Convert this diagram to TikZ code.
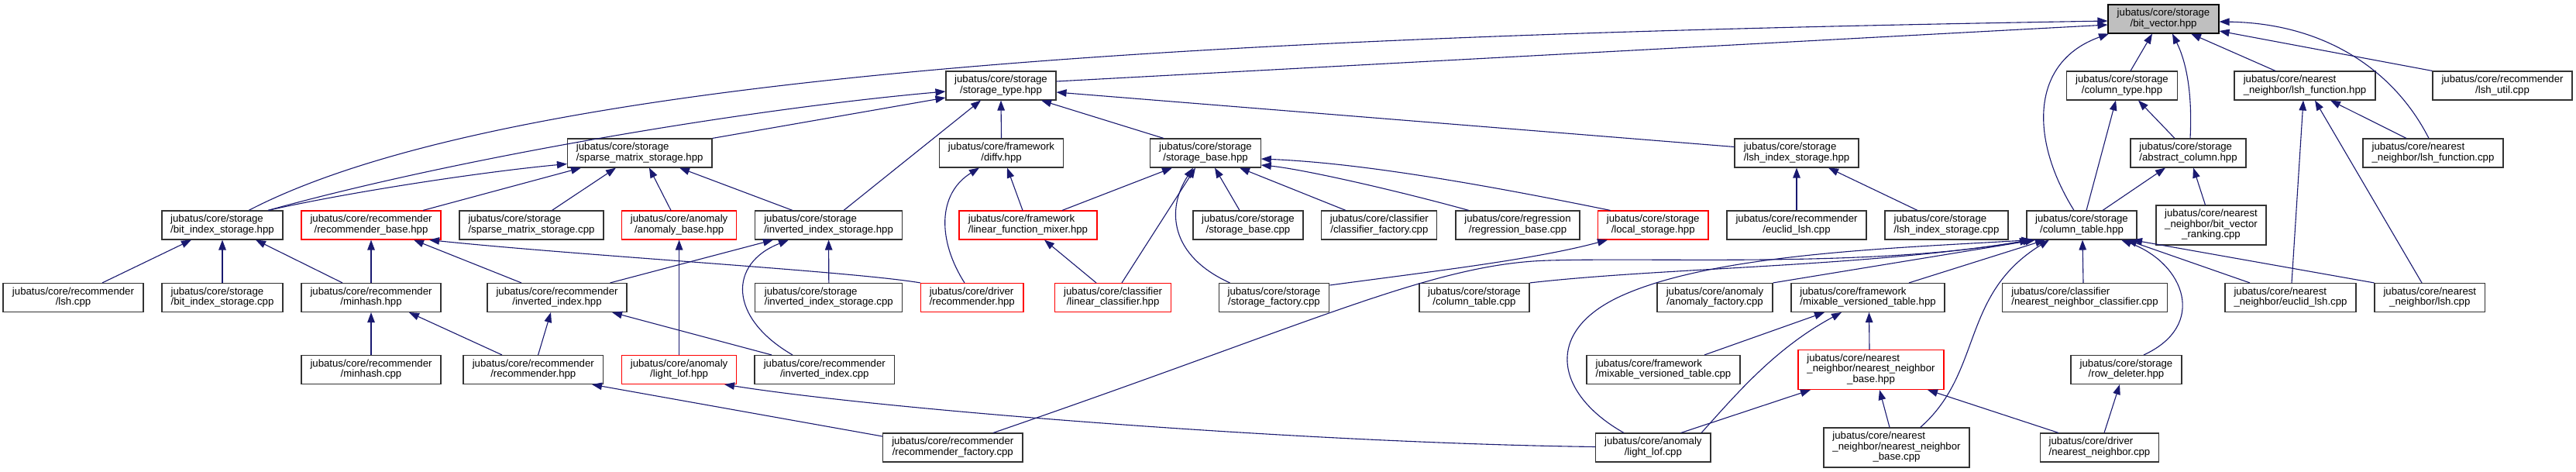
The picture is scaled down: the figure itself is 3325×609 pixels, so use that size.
\documentclass[tikz,border=0pt]{standalone}
\usepackage{fontspec}
\setmainfont{Liberation Sans}
\usetikzlibrary{arrows.meta,calc}
\definecolor{edgeblue}{RGB}{25,25,112}
\definecolor{rootgray}{RGB}{191,191,191}
\newcommand{\twol}[2]{\begin{tabular}{@{}l@{}}#1\\\multicolumn{1}{@{}c@{}}{#2}\end{tabular}}
\newcommand{\threel}[3]{\begin{tabular}{@{}l@{}}#1\\#2\\\multicolumn{1}{@{}c@{}}{#3}\end{tabular}}
\begin{document}
\begin{tikzpicture}[x=1pt,y=-1pt,
  nbox/.style={draw=black!80, line width=1.1pt, fill=white, rectangle, inner sep=0pt, minimum height=37pt, font=\fontsize{13.2}{13.2}\selectfont},
  tall/.style={minimum height=51pt},
  redbox/.style={draw=red},
  rootbox/.style={fill=rootgray, draw=black},
  conn/.style={draw=edgeblue, line width=1.1pt, -{Triangle[length=13pt,width=9.5pt]}}]
\useasboundingbox (0,0) rectangle (3325,609);
\fill[white] (0,0) rectangle (3325,609);
% row 0
\node[nbox,rootbox,minimum width=143pt] (bitvec) at (2792.5,24.5) {\twol{jubatus/core/storage}{/bit\_vector.hpp}};
% row 1
\node[nbox,minimum width=142pt] (storagetype) at (1292,110.5) {\twol{jubatus/core/storage}{/storage\_type.hpp}};
\node[nbox,minimum width=142.5pt] (coltype) at (2739,110.5) {\twol{jubatus/core/storage}{/column\_type.hpp}};
\node[nbox,minimum width=182pt] (lshfunchpp) at (2975,110.5) {\twol{jubatus/core/nearest}{\_neighbor/lsh\_function.hpp}};
\node[nbox,minimum width=180pt] (lshutil) at (3230,110.5) {\twol{jubatus/core/recommender}{/lsh\_util.cpp}};
% row 2
\node[nbox,minimum width=186.5pt] (sparsehpp) at (825.7,197.5) {\twol{jubatus/core/storage}{/sparse\_matrix\_storage.hpp}};
\node[nbox,minimum width=160pt] (diffv) at (1292.5,197.5) {\twol{jubatus/core/framework}{/diffv.hpp}};
\node[nbox,minimum width=142.5pt] (storagebase) at (1556,197.5) {\twol{jubatus/core/storage}{/storage\_base.hpp}};
\node[nbox,minimum width=160pt] (lshidxhpp) at (2319,197.5) {\twol{jubatus/core/storage}{/lsh\_index\_storage.hpp}};
\node[nbox,minimum width=149pt] (abscol) at (2824.5,197.5) {\twol{jubatus/core/storage}{/abstract\_column.hpp}};
\node[nbox,minimum width=181pt] (lshfunccpp) at (3140.5,197.5) {\twol{jubatus/core/nearest}{\_neighbor/lsh\_function.cpp}};
% row 3
\node[nbox,minimum width=156pt] (bitidxhpp) at (287,290.5) {\twol{jubatus/core/storage}{/bit\_index\_storage.hpp}};
\node[nbox,redbox,minimum width=180pt] (recbase) at (479,290.5) {\twol{jubatus/core/recommender}{/recommender\_base.hpp}};
\node[nbox,minimum width=186pt] (sparsecpp) at (686,290.5) {\twol{jubatus/core/storage}{/sparse\_matrix\_storage.cpp}};
\node[nbox,redbox,minimum width=148pt] (anombase) at (876.6,290.5) {\twol{jubatus/core/anomaly}{/anomaly\_base.hpp}};
\node[nbox,minimum width=190pt] (invidxstorhpp) at (1069.6,290.5) {\twol{jubatus/core/storage}{/inverted\_index\_storage.hpp}};
\node[nbox,redbox,minimum width=178pt] (lfmixer) at (1327,290.5) {\twol{jubatus/core/framework}{/linear\_function\_mixer.hpp}};
\node[nbox,minimum width=142pt] (storagebasecpp) at (1611,290.5) {\twol{jubatus/core/storage}{/storage\_base.cpp}};
\node[nbox,minimum width=149pt] (classfactory) at (1780.4,290.5) {\twol{jubatus/core/classifier}{/classifier\_factory.cpp}};
\node[nbox,minimum width=160pt] (regbase) at (1959,290.5) {\twol{jubatus/core/regression}{/regression\_base.cpp}};
\node[nbox,redbox,minimum width=142.5pt] (localstorage) at (2133.7,290.5) {\twol{jubatus/core/storage}{/local\_storage.hpp}};
\node[nbox,minimum width=180pt] (receuclid) at (2319,290.5) {\twol{jubatus/core/recommender}{/euclid\_lsh.cpp}};
\node[nbox,minimum width=159pt] (lshidxcpp) at (2512.5,290.5) {\twol{jubatus/core/storage}{/lsh\_index\_storage.cpp}};
\node[nbox,minimum width=142pt] (coltable) at (2687,290.5) {\twol{jubatus/core/storage}{/column\_table.hpp}};
\node[nbox,tall,minimum width=142pt] (bvranking) at (2854,290.5) {\threel{jubatus/core/nearest}{\_neighbor/bit\_vector}{\_ranking.cpp}};
% row 4
\node[nbox,minimum width=181pt] (reclsh) at (94.5,384) {\twol{jubatus/core/recommender}{/lsh.cpp}};
\node[nbox,minimum width=156pt] (bitidxcpp) at (287,384) {\twol{jubatus/core/storage}{/bit\_index\_storage.cpp}};
\node[nbox,minimum width=180pt] (minhashhpp) at (479,384) {\twol{jubatus/core/recommender}{/minhash.hpp}};
\node[nbox,minimum width=180pt] (invidxhpp) at (719,384) {\twol{jubatus/core/recommender}{/inverted\_index.hpp}};
\node[nbox,minimum width=190pt] (invidxstorcpp) at (1069.8,384) {\twol{jubatus/core/storage}{/inverted\_index\_storage.cpp}};
\node[nbox,redbox,minimum width=132.4pt] (driverrec) at (1254.8,384) {\twol{jubatus/core/driver}{/recommender.hpp}};
\node[nbox,redbox,minimum width=149.6pt] (linclass) at (1436.6,384) {\twol{jubatus/core/classifier}{/linear\_classifier.hpp}};
\node[nbox,minimum width=142.7pt] (storagefactory) at (1644.4,384) {\twol{jubatus/core/storage}{/storage\_factory.cpp}};
\node[nbox,minimum width=142pt] (coltablecpp) at (1903,384) {\twol{jubatus/core/storage}{/column\_table.cpp}};
\node[nbox,minimum width=149pt] (anomfactory) at (2213.5,384) {\twol{jubatus/core/anomaly}{/anomaly\_factory.cpp}};
\node[nbox,minimum width=198pt] (mvthpp) at (2411,384) {\twol{jubatus/core/framework}{/mixable\_versioned\_table.hpp}};
\node[nbox,minimum width=213pt] (nnclass) at (2691,384) {\twol{jubatus/core/classifier}{/nearest\_neighbor\_classifier.cpp}};
\node[nbox,minimum width=169pt] (nneuclid) at (2956.5,384) {\twol{jubatus/core/nearest}{\_neighbor/euclid\_lsh.cpp}};
\node[nbox,minimum width=142.6pt] (nnlsh) at (3136.3,384) {\twol{jubatus/core/nearest}{\_neighbor/lsh.cpp}};
% row 5
\node[nbox,minimum width=180pt] (minhashcpp) at (479,477) {\twol{jubatus/core/recommender}{/minhash.cpp}};
\node[nbox,minimum width=180.6pt] (rechpp) at (688.3,477) {\twol{jubatus/core/recommender}{/recommender.hpp}};
\node[nbox,redbox,minimum width=148pt] (lightlofhpp) at (876.6,477) {\twol{jubatus/core/anomaly}{/light\_lof.hpp}};
\node[nbox,minimum width=180.6pt] (invidxcpp) at (1064.3,477) {\twol{jubatus/core/recommender}{/inverted\_index.cpp}};
\node[nbox,minimum width=198pt] (mvtcpp) at (2147,477) {\twol{jubatus/core/framework}{/mixable\_versioned\_table.cpp}};
\node[nbox,tall,redbox,minimum width=188pt] (nnbasehpp) at (2415,477) {\threel{jubatus/core/nearest}{\_neighbor/nearest\_neighbor}{\_base.hpp}};
\node[nbox,minimum width=143pt] (rowdeleter) at (2744.5,477) {\twol{jubatus/core/storage}{/row\_deleter.hpp}};
% row 6
\node[nbox,minimum width=180.4pt] (recfactory) at (1229.8,577.5) {\twol{jubatus/core/recommender}{/recommender\_factory.cpp}};
\node[nbox,minimum width=148.4pt] (lightlofcpp) at (2133.8,577.5) {\twol{jubatus/core/anomaly}{/light\_lof.cpp}};
\node[nbox,tall,minimum width=188pt] (nnbasecpp) at (2448,577.5) {\threel{jubatus/core/nearest}{\_neighbor/nearest\_neighbor}{\_base.cpp}};
\node[nbox,minimum width=153.7pt] (drivernn) at (2710,577.5) {\twol{jubatus/core/driver}{/nearest\_neighbor.cpp}};

% ---- edges into bit_vector
\draw[conn] ($(storagetype.east)+(0,-5.5)$) -- ($(bitvec.west)+(0,7.5)$);
\draw[conn] ($(bitidxhpp.north)+(34,0)$) .. controls (680,85) and (1650,45) .. ($(bitvec.west)+(0,2.5)$);
\draw[conn] ($(coltype.north)+(11,0)$) -- ($(bitvec.south)+(-14.5,0)$);
\draw[conn] ($(coltable.north)+(-10,0)$) .. controls (2620,180) and (2620,80) .. ($(bitvec.south)+(-70.5,0)$);
\draw[conn] ($(abscol.north)+(2.5,0)$) .. controls (2830,120) and (2822,80) .. ($(bitvec.south)+(11.5,0)$);
\draw[conn] ($(lshfunchpp.north)+(-38,0)$) -- ($(bitvec.south)+(35.5,0)$);
\draw[conn] ($(lshfunccpp.north)+(-5.5,0)$) .. controls (3090,90) and (3000,30) .. ($(bitvec.east)+(0,3.5)$);
\draw[conn] (lshutil.north west) -- ($(bitvec.east)+(0,15.5)$);
% ---- into storage_type
\draw[conn] ($(bitidxhpp.north)+(59,0)$) .. controls (596,202) and (971,140) .. ($(storagetype.west)+(0,7.5)$);
\draw[conn] (sparsehpp.north east) -- ($(storagetype.west)+(0,15.5)$);
\draw[conn] ($(invidxstorhpp.north)+(19.4,0)$) -- ($(storagetype.south)+(-26,0)$);
\draw[conn] (diffv.north) -- (storagetype.south);
\draw[conn] ($(storagebase.north)+(-54,0)$) -- ($(storagetype.south)+(52,0)$);
\draw[conn] ($(lshidxhpp.west)+(0,-8)$) -- ($(storagetype.east)+(0,8.5)$);
% ---- into sparse_matrix_storage
\draw[conn] ($(bitidxhpp.north)+(59,0)$) .. controls (450,248) and (620,222) .. ($(sparsehpp.west)+(0,14)$);
\draw[conn] ($(recbase.north)+(67,0)$) -- ($(sparsehpp.south)+(-75.7,0)$);
\draw[conn] ($(sparsecpp.north)+(26.5,0)$) -- ($(sparsehpp.south)+(-30.7,0)$);
\draw[conn] ($(anombase.north)+(-10.6,0)$) -- ($(sparsehpp.south)+(12.3,0)$);
\draw[conn] ($(invidxstorhpp.north)+(-46.6,0)$) -- ($(sparsehpp.south)+(51.3,0)$);
% ---- left part
\draw[conn] ($(reclsh.north)+(37.5,0)$) -- ($(bitidxhpp.south)+(-40,0)$);
\draw[conn] (bitidxcpp.north) -- (bitidxhpp.south);
\draw[conn] ($(minhashhpp.north)+(-37,0)$) -- ($(bitidxhpp.south)+(43,0)$);
\draw[conn] (minhashhpp.north) -- (recbase.south);
\draw[conn] ($(invidxhpp.north)+(-46,0)$) -- ($(recbase.south)+(55,0)$);
\draw[conn] (driverrec.north west) .. controls (1100,350) and (750,330) .. ($(recbase.south)+(75,0)$);
\draw[conn] (minhashcpp.north) -- (minhashhpp.south);
\draw[conn] ($(rechpp.north)+(-40.3,0)$) -- ($(minhashhpp.south)+(49,0)$);
\draw[conn] ($(rechpp.north)+(6.3,0)$) -- ($(invidxhpp.south)+(-8,0)$);
\draw[conn] ($(invidxcpp.north)+(-68.3,0)$) -- ($(invidxhpp.south)+(71,0)$);
\draw[conn] ($(invidxhpp.north)+(68.5,0)$) -- ($(invidxstorhpp.south)+(-71.6,0)$);
\draw[conn] (invidxstorcpp.north) -- (invidxstorhpp.south);
\draw[conn] ($(invidxcpp.north)+(-41.3,0)$) .. controls (940,410) and (940,340) .. ($(invidxstorhpp.south)+(-51.6,0)$);
\draw[conn] (lightlofhpp.north) -- (anombase.south);
\draw[conn] ($(lightlofcpp.west)+(0,-1)$) .. controls (1700,572) and (1150,530) .. ($(lightlofhpp.south)+(58.4,0)$);
\draw[conn] ($(recfactory.west)+(0,-14.5)$) -- ($(rechpp.south)+(75.7,0)$);
\draw[conn] ($(recfactory.north)+(52.2,0)$) .. controls (1700,415) and (1850,340) .. (2000,336) .. controls (2150,332) and (2420,345) .. ($(coltable.south)+(-67,0)$);
% ---- middle
\draw[conn] ($(lfmixer.north)+(-7,0)$) -- ($(diffv.south)+(7.5,0)$);
\draw[conn] ($(driverrec.north)+(-9.8,0)$) .. controls (1210,310) and (1210,250) .. ($(diffv.south)+(-28.5,0)$);
\draw[conn] ($(lfmixer.north)+(44,0)$) -- ($(storagebase.south)+(-43,0)$);
\draw[conn] ($(linclass.north)+(11.4,0)$) -- ($(storagebase.south)+(-13,0)$);
\draw[conn] ($(storagefactory.north)+(-56.9,0)$) .. controls (1510,330) and (1505,270) .. ($(storagebase.south)+(-16,0)$);
\draw[conn] ($(storagebasecpp.north)+(-11,0)$) -- ($(storagebase.south)+(12,0)$);
\draw[conn] ($(classfactory.north)+(-43.4,0)$) -- ($(storagebase.south)+(44,0)$);
\draw[conn] ($(regbase.north)+(-63,0)$) .. controls (1800,245) and (1680,218) .. ($(storagebase.east)+(0,15.5)$);
\draw[conn] ($(localstorage.north)+(-55.1,0)$) .. controls (1900,235) and (1750,210) .. ($(storagebase.east)+(0,7.5)$);
\draw[conn] ($(linclass.north)+(-21.6,0)$) -- ($(lfmixer.south)+(21,0)$);
\draw[conn] ($(storagefactory.east)+(0,-16)$) .. controls (1850,350) and (1980,335) .. ($(localstorage.south)+(-58.7,0)$);
% ---- right part
\draw[conn] (receuclid.north) -- (lshidxhpp.south);
\draw[conn] ($(lshidxcpp.north)+(-37.5,0)$) -- ($(lshidxhpp.south)+(41,0)$);
\draw[conn] ($(coltable.north)+(6,0)$) -- ($(coltype.south)+(-8,0)$);
\draw[conn] ($(abscol.north)+(-17.5,0)$) -- ($(coltype.south)+(21,0)$);
\draw[conn] ($(coltable.north)+(27,0)$) -- ($(abscol.south)+(-29.5,0)$);
\draw[conn] ($(bvranking.north)+(-7.5,0)$) -- ($(abscol.south)+(6.5,0)$);
\draw[conn] ($(lshfunccpp.north)+(-34.5,0)$) -- ($(lshfunchpp.south)+(33,0)$);
\draw[conn] ($(nneuclid.north)+(1.5,0)$) -- ($(lshfunchpp.south)+(-2,0)$);
\draw[conn] ($(nnlsh.north)+(-10.3,0)$) -- ($(lshfunchpp.south)+(13,0)$);
% ---- into column_table
\draw[conn] ($(lightlofcpp.north)+(-37.8,0)$) .. controls (2010,510) and (1990,430) .. (2090,383) .. controls (2210,327) and (2450,320) .. ($(coltable.south)+(-65,0)$);
\draw[conn] (coltablecpp.north east) .. controls (2150,345) and (2400,345) .. ($(coltable.south)+(-63,0)$);
\draw[conn] (anomfactory.north east) -- ($(coltable.south)+(-60,0)$);
\draw[conn] ($(mvthpp.north)+(53,0)$) -- ($(coltable.south)+(-47,0)$);
\draw[conn] ($(nnbasecpp.north)+(30.6,0)$) .. controls (2560,480) and (2530,380) .. ($(coltable.south)+(-42,0)$);
\draw[conn] ($(nnclass.north)+(-2,0)$) -- ($(coltable.south)+(1,0)$);
\draw[conn] ($(rowdeleter.north)+(22.5,0)$) .. controls (2850,420) and (2820,340) .. ($(coltable.south)+(51,0)$);
\draw[conn] ($(nneuclid.north)+(-52.5,0)$) -- ($(coltable.south)+(58,0)$);
\draw[conn] (nnlsh.north west) -- ($(coltable.south)+(65,0)$);
% ---- bottom right
\draw[conn] ($(mvtcpp.north)+(53,0)$) -- ($(mvthpp.south)+(-56,0)$);
\draw[conn] ($(lightlofcpp.north)+(62.2,0)$) .. controls (2240,510) and (2290,450) .. ($(mvthpp.south)+(-34,0)$);
\draw[conn] ($(nnbasehpp.north)+(-2,0)$) -- ($(mvthpp.south)+(1.5,0)$);
\draw[conn] ($(lightlofcpp.north)+(35.8,0)$) -- ($(nnbasehpp.south)+(-78,0)$);
\draw[conn] ($(nnbasecpp.north)+(-9,0)$) -- ($(nnbasehpp.south)+(11,0)$);
\draw[conn] ($(drivernn.north)+(-53,0)$) -- ($(nnbasehpp.south)+(73,0)$);
\draw[conn] ($(drivernn.north)+(6,0)$) -- ($(rowdeleter.south)+(-8.5,0)$);
\end{tikzpicture}
\end{document}
